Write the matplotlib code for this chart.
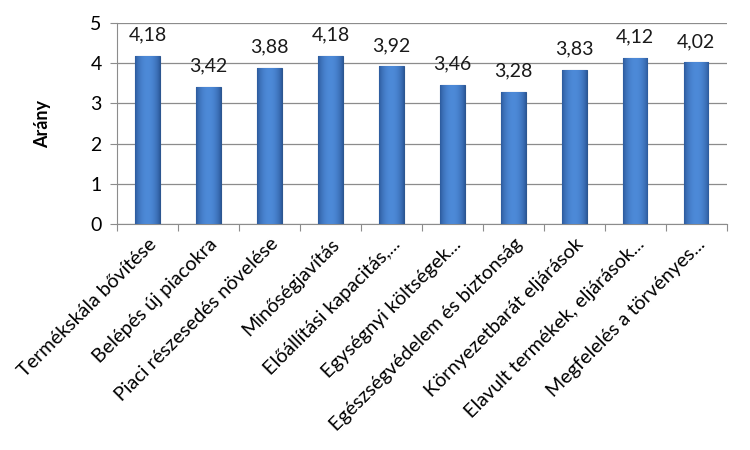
import matplotlib
matplotlib.use('Agg')
import matplotlib.pyplot as plt
import numpy as np

plt.rcParams['font.family'] = ['Lato', 'DejaVu Sans']

categories = ['Termékskála bővítése', 'Belépés új piacokra', 'Piaci részesedés növelése',
              'Minőségjavítás', 'Előállítási kapacitás,...', 'Egységnyi költségek...',
              'Egészségvédelem és biztonság', 'Környezetbarát eljárások',
              'Elavult termékek, eljárások...', 'Megfelelés a törvényes...']
values = [4.18, 3.42, 3.88, 4.18, 3.92, 3.46, 3.28, 3.83, 4.12, 4.02]
value_labels = ['4,18', '3,42', '3,88', '4,18', '3,92', '3,46', '3,28', '3,83', '4,12', '4,02']
y_ticks = [0, 1, 2, 3, 4, 5]

fig = plt.figure(figsize=(7.5, 4.5), dpi=100)
ax = fig.add_axes([0.156, 0.502, 0.813, 0.447])

x = np.arange(len(categories))
bars = ax.bar(x, values, width=0.4, color='#3a6fb8', edgecolor='#2c5690', linewidth=0.8, zorder=3)

# horizontal shading on each bar, lighter toward the middle
grad = np.linspace(0, 1, 64)
shade = np.sin(grad * np.pi) ** 0.7
cmap = matplotlib.colors.LinearSegmentedColormap.from_list('b', ['#2b5899', '#4d8ad8'])
for b in bars:
    x0, w, h = b.get_x(), b.get_width(), b.get_height()
    im = ax.imshow(shade[None, :], extent=(x0, x0 + w, 0, h), aspect='auto',
                   cmap=cmap, zorder=3.5, interpolation='bicubic')
    im.set_clip_path(b)

for xi, v, lab in zip(x, values, value_labels):
    ax.annotate(lab, (xi, v), xytext=(0, 9), textcoords='offset points',
                ha='center', va='bottom', fontsize=14, color='#1a1a1a')

ax.set_xlim(-0.5, len(categories) - 0.5)
ax.set_ylim(0, 5)
ax.set_yticks(y_ticks)
ax.set_yticklabels([str(t) for t in y_ticks], fontsize=14)
ax.grid(axis='y', color='#8c8c8c', linewidth=0.9, zorder=0)

ax.set_xticks(np.arange(len(categories) + 1) - 0.5, minor=False)
ax.set_xticklabels([])
ax.set_xticks(x, minor=True)
ax.set_xticklabels(categories, minor=True, rotation=45, ha='right',
                   rotation_mode='anchor', fontsize=14.2)
ax.tick_params(axis='x', which='minor', length=0, pad=8)
ax.tick_params(axis='x', which='major', length=5, color='#8c8c8c')
ax.tick_params(axis='y', length=5, color='#8c8c8c', pad=6)

for s in ['top', 'right']:
    ax.spines[s].set_visible(False)
for s in ['left', 'bottom']:
    ax.spines[s].set_color('#8c8c8c')

ax.set_ylabel('Arány', fontsize=13, fontweight='bold', labelpad=28)

fig.savefig('out.png', dpi=100)
